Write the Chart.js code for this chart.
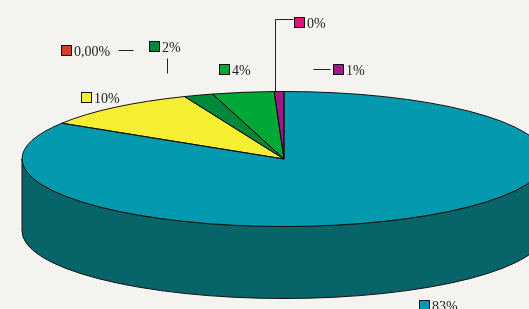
<!DOCTYPE html>
<html><head><meta charset="utf-8">
<script src="https://cdn.jsdelivr.net/npm/chart.js@4/dist/chart.umd.min.js"></script>
<style>
html,body{margin:0;padding:0;background:#f4f3f0;overflow:hidden}
canvas{display:block}
</style></head>
<body>
<canvas id="c" width="529" height="309"></canvas>
<script>
// ---- data (slice sizes; labels as printed) ----
const categories = ['Teal', 'Yellow', 'Red', 'Dark green', 'Green', 'Purple', 'Pink'];
const values = [83.9, 9.9, 0, 1.8, 3.8, 0.6, 0];
const valueLabels = ['83%', '10%', '0,00%', '2%', '4%', '1%', '0%'];
const topColors = ['#0399ae', '#f6ee30', '#d63b2b', '#00883a', '#00a838', '#9a1b85', '#e6117b'];
const sideColors = ['#07656a', '#b5ae10', '#9a2a1f', '#005a26', '#007426', '#6a1060', '#a80c58'];

// ---- layout (screen geometry of the 3D pie and label placement) ----
const G = { cx: 284, cy: 159, rx: 262, ry: 67.5, depth: 72 };
const labelPos = [
  { bx: 419, by: 300 },
  { bx: 81, by: 92 },
  { bx: 61, by: 45 },
  { bx: 149, by: 41 },
  { bx: 219, by: 64 },
  { bx: 333, by: 64 },
  { bx: 294, by: 17 }
];
const leaders = [
  [[118, 50], [133, 50]],
  [[167, 58], [167, 73]],
  [[313, 69], [330, 69]],
  [[275, 92], [275, 19], [293, 19]]
];

const pie3d = {
  id: 'pie3d',
  beforeDatasetsDraw(chart) {
    const ctx = chart.ctx;
    const arcs = chart.getDatasetMeta(0).data;
    ctx.save();
    ctx.lineWidth = 1;
    ctx.strokeStyle = '#111';
    arcs.forEach((a, i) => {
      const s0 = a.startAngle, e0 = a.endAngle;
      [[0, Math.PI], [2 * Math.PI, 3 * Math.PI], [-2 * Math.PI, -Math.PI]].forEach(([lo, hi]) => {
        const s = Math.max(s0, lo), e = Math.min(e0, hi);
        if (e - s > 1e-6) {
          ctx.beginPath();
          ctx.ellipse(G.cx, G.cy, G.rx, G.ry, 0, s, e, false);
          ctx.lineTo(G.cx + G.rx * Math.cos(e), G.cy + G.depth + G.ry * Math.sin(e));
          ctx.ellipse(G.cx, G.cy + G.depth, G.rx, G.ry, 0, e, s, true);
          ctx.closePath();
          ctx.fillStyle = sideColors[i];
          ctx.fill();
          ctx.stroke();
        }
      });
    });
    ctx.restore();
    const a0 = arcs[0];
    ctx.save();
    ctx.translate(G.cx, G.cy);
    ctx.scale(G.rx / a0.outerRadius, G.ry / a0.outerRadius);
    ctx.translate(-a0.x, -a0.y);
  },
  afterDatasetsDraw(chart) {
    const ctx = chart.ctx;
    ctx.restore();
    const arcs = chart.getDatasetMeta(0).data;
    ctx.save();
    ctx.lineWidth = 1;
    ctx.strokeStyle = '#111';
    arcs.forEach((a) => {
      const s = a.startAngle, e = a.endAngle;
      if (e - s < 1e-6) return;
      ctx.beginPath();
      ctx.moveTo(G.cx, G.cy);
      ctx.lineTo(G.cx + G.rx * Math.cos(s), G.cy + G.ry * Math.sin(s));
      ctx.ellipse(G.cx, G.cy, G.rx, G.ry, 0, s, e, false);
      ctx.closePath();
      ctx.stroke();
    });
    ctx.restore();
  },
  afterDraw(chart) {
    const ctx = chart.ctx;
    ctx.save();
    ctx.strokeStyle = '#222';
    ctx.lineWidth = 1;
    leaders.forEach(pts => {
      ctx.beginPath();
      pts.forEach(([x, y], k) => k ? ctx.lineTo(x + 0.5, y + 0.5) : ctx.moveTo(x + 0.5, y + 0.5));
      ctx.stroke();
    });
    ctx.font = '14px "Liberation Serif", "Times New Roman", serif';
    ctx.textBaseline = 'alphabetic';
    valueLabels.forEach((lab, i) => {
      const p = labelPos[i];
      ctx.fillStyle = topColors[i];
      ctx.fillRect(p.bx, p.by, 10, 10);
      ctx.strokeStyle = '#111';
      ctx.strokeRect(p.bx + 0.5, p.by + 0.5, 10, 10);
      ctx.fillStyle = '#222';
      ctx.fillText(lab, p.bx + 13, p.by + 11);
    });
    ctx.restore();
  }
};

new Chart(document.getElementById('c'), {
  type: 'pie',
  data: {
    labels: categories,
    datasets: [{
      data: values,
      backgroundColor: topColors,
      borderWidth: 0
    }]
  },
  options: {
    responsive: false,
    animation: false,
    devicePixelRatio: 1,
    events: [],
    layout: { padding: 0 },
    plugins: { legend: { display: false }, tooltip: { enabled: false } }
  },
  plugins: [pie3d]
});
</script>
</body></html>
